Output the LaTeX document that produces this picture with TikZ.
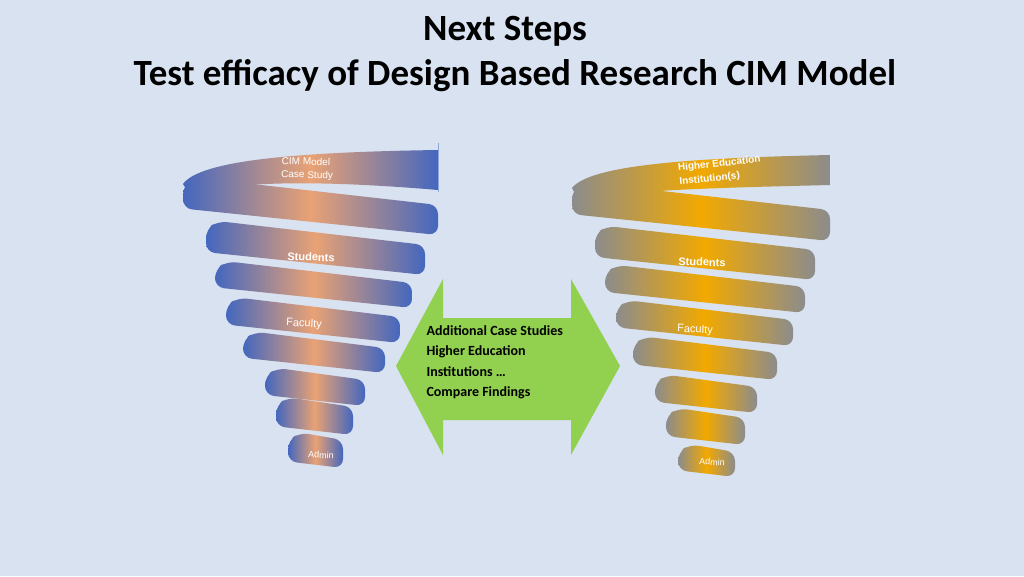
\documentclass[tikz,border=0pt]{standalone}
\usepackage{fontspec}
\setmainfont{Carlito}
\newfontfamily\labelfont{Liberation Sans}
\definecolor{bgblue}{HTML}{D9E2F1}
\definecolor{ribblue}{HTML}{4467BE}
\definecolor{ribsalmon}{HTML}{E9A274}
\definecolor{ribgray}{HTML}{8C8C8C}
\definecolor{riborange}{HTML}{F2A900}
\definecolor{arrgreen}{HTML}{92D050}
\tikzset{
  bluerib/.style={left color=ribblue, right color=ribblue, middle color=ribsalmon},
  goldrib/.style={left color=ribgray, right color=ribgray, middle color=riborange},
  riblabel/.style={text=white, font=\labelfont\fontsize{10}{11}\selectfont, align=left},
}
% one front band of a spiral: left x, right x, top y, bottom y, style
\newcommand{\ribband}[5]{%
  \pgfmathsetmacro{\dd}{0.1*(#2-#1)}
  \shade[#5, rounded corners=9] (#2,#3) -- (#1+12,#3-\dd-2) -- (#1,#3-\dd+6) -- (#1,#4-\dd+2) -- (#2,#4+3) -- cycle;
}
\begin{document}
\begin{tikzpicture}[x=1pt,y=-1pt]
  \fill[bgblue] (0,0) rectangle (1024,576);
  \useasboundingbox (0,0) rectangle (1024,576);

  \node (title1) at (505,31) {\fontsize{37}{40}\selectfont\bfseries Next Steps};
  \node (title2) at (515,76) {\fontsize{37}{40}\selectfont\bfseries Test efficacy of Design Based Research CIM Model};

  % left spiral
  \shade[bluerib] (183,184) .. controls (200,160) and (300,152) .. (438,150) -- (438,190) .. controls (320,180) and (220,180) .. (192,198) -- cycle;
  \draw[ribblue!60, line width=1] (438,143) -- (438,192);
  \ribband{183}{438}{205}{232}{bluerib}
  \ribband{206}{425}{245}{272}{bluerib}
  \ribband{215}{412}{283}{305}{bluerib}
  \ribband{226}{400}{317}{340}{bluerib}
  \ribband{243}{385}{348}{370}{bluerib}
  \ribband{265}{365}{380}{403}{bluerib}
  \ribband{276}{353}{407}{432}{bluerib}
  \ribband{288}{343}{440}{465}{bluerib}
  \node[riblabel, anchor=west, rotate=-2] (lcase) at (278,168) {CIM Model\\[2pt]Case Study};
  \node[riblabel, font=\labelfont\bfseries\fontsize{11}{12}\selectfont, rotate=-2] (lstud) at (311,257) {Students};
  \node[riblabel, font=\labelfont\fontsize{11}{12}\selectfont, rotate=-3] (lfac) at (304,324) {Faculty};
  \node[riblabel, font=\labelfont\fontsize{9}{10}\selectfont, rotate=-3] (ladm) at (321,455) {Admin};

  % right spiral
  \shade[goldrib] (572,188) .. controls (590,165) and (690,158) .. (830,155) -- (830,185) .. controls (710,188) and (610,190) .. (580,203) -- cycle;
  \ribband{572}{830}{210}{238}{goldrib}
  \ribband{595}{815}{250}{277}{goldrib}
  \ribband{605}{805}{287}{310}{goldrib}
  \ribband{616}{793}{320}{343}{goldrib}
  \ribband{633}{777}{353}{377}{goldrib}
  \ribband{655}{757}{387}{410}{goldrib}
  \ribband{666}{745}{418}{442}{goldrib}
  \ribband{678}{735}{452}{474}{goldrib}
  \node[riblabel, font=\labelfont\bfseries\fontsize{10}{11}\selectfont, rotate=6] (rhei) at (720,171) {Higher Education\\[3pt]Institution(s)};
  \node[riblabel, font=\labelfont\bfseries\fontsize{11}{12}\selectfont, rotate=-2] (rstud) at (702,262) {Students};
  \node[riblabel, font=\labelfont\fontsize{11}{12}\selectfont, rotate=-3] (rfac) at (695,330) {Faculty};
  \node[riblabel, font=\labelfont\fontsize{9}{10}\selectfont, rotate=-3] (radm) at (712,462) {Admin};

  % double arrow
  \fill[arrgreen] (396,366) -- (443,279) -- (443,318) -- (571,318) -- (571,279)
    -- (620,366) -- (571,455) -- (571,420) -- (443,420) -- (443,455) -- cycle;
  \node[anchor=north west, align=left, font=\bfseries\fontsize{14}{20.5}\selectfont] (findings) at (423,322)
    {Additional Case Studies\\Higher Education\\Institutions \dots\\Compare Findings};
\end{tikzpicture}
\end{document}
